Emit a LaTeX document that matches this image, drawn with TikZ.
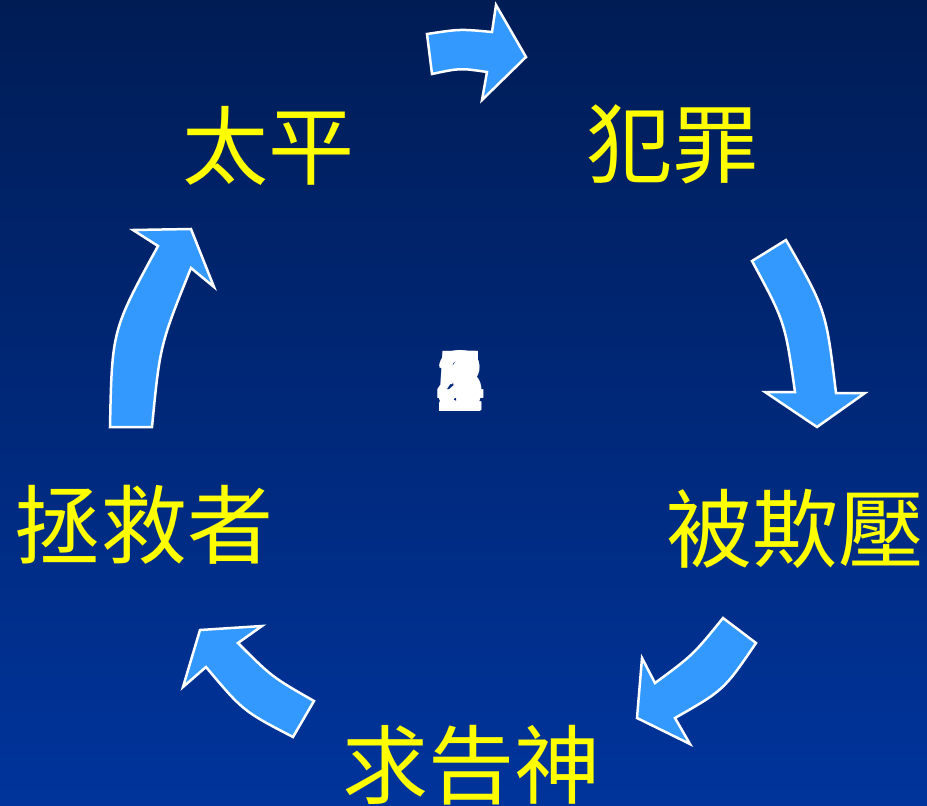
\documentclass[tikz,border=0pt]{standalone}
\usepackage{fontspec}
\newfontfamily\cjk{Noto Sans CJK TC}
\newfontfamily\digits{Liberation Sans}
\definecolor{bgtop}{HTML}{001C55}
\definecolor{bgbot}{HTML}{00349C}
\definecolor{arrowblue}{HTML}{3399FF}
\definecolor{labelyellow}{HTML}{FFFF00}
\begin{document}
\begin{tikzpicture}[x=1bp,y=-1bp,
  lbl/.style={inner sep=0pt, text=labelyellow, font=\cjk\fontsize{86bp}{86bp}\selectfont},
  blockarrow/.style={fill=arrowblue, draw=white, line width=2.5bp, line join=miter},
  num/.style={inner sep=0pt, text=white, font=\digits\bfseries\fontsize{86bp}{86bp}\selectfont}]
\shade[top color=bgtop, bottom color=bgbot] (0,0) rectangle (927,806);
\useasboundingbox (0,0) rectangle (927,806);

% labels
\node[lbl] (taiping) at (268,146) {太平};
\node[lbl] (fanzui) at (672,144) {犯罪};
\node[lbl] (beiqiya) at (795,529) {被欺壓};
\node[lbl] (qiugaoshen) at (471,765) {求告神};
\node[lbl] (zhengjiuzhe) at (144,525) {拯救者};

% centre (overlapping numbers)
\foreach \n in {1,...,5}{\node[num] (c\n) at (460,381) {\n};}

% top arrow
\draw[blockarrow] (427,34) .. controls (460,29) .. (492,32) -- (496,5) -- (526,57)
  -- (482,100) -- (487,72) .. controls (460,68) .. (432,74) -- cycle;
% right arrow
\draw[blockarrow] (752,261) -- (786,240) .. controls (826,310) .. (836,393) -- (865,393)
  -- (817,427) -- (765,392) -- (795,392) .. controls (785,322) .. cycle;
% bottom-right arrow
\draw[blockarrow] (723,618) -- (756,643) .. controls (724,690) .. (675,718) -- (690,744)
  -- (637,718) -- (642,658) -- (655,683) .. controls (693,655) .. cycle;
% bottom-left arrow
\draw[blockarrow] (314,701) -- (293,737) .. controls (243,711) .. (206,667) -- (183,687)
  -- (200,630) -- (262,626) -- (238,643) .. controls (272,677) .. cycle;
% left arrow
\draw[blockarrow] (110,427) -- (152,427) .. controls (160,345) .. (191,268) -- (214,287)
  -- (191,229) -- (133,230) -- (158,246) .. controls (112,330) .. cycle;
\end{tikzpicture}
\end{document}
